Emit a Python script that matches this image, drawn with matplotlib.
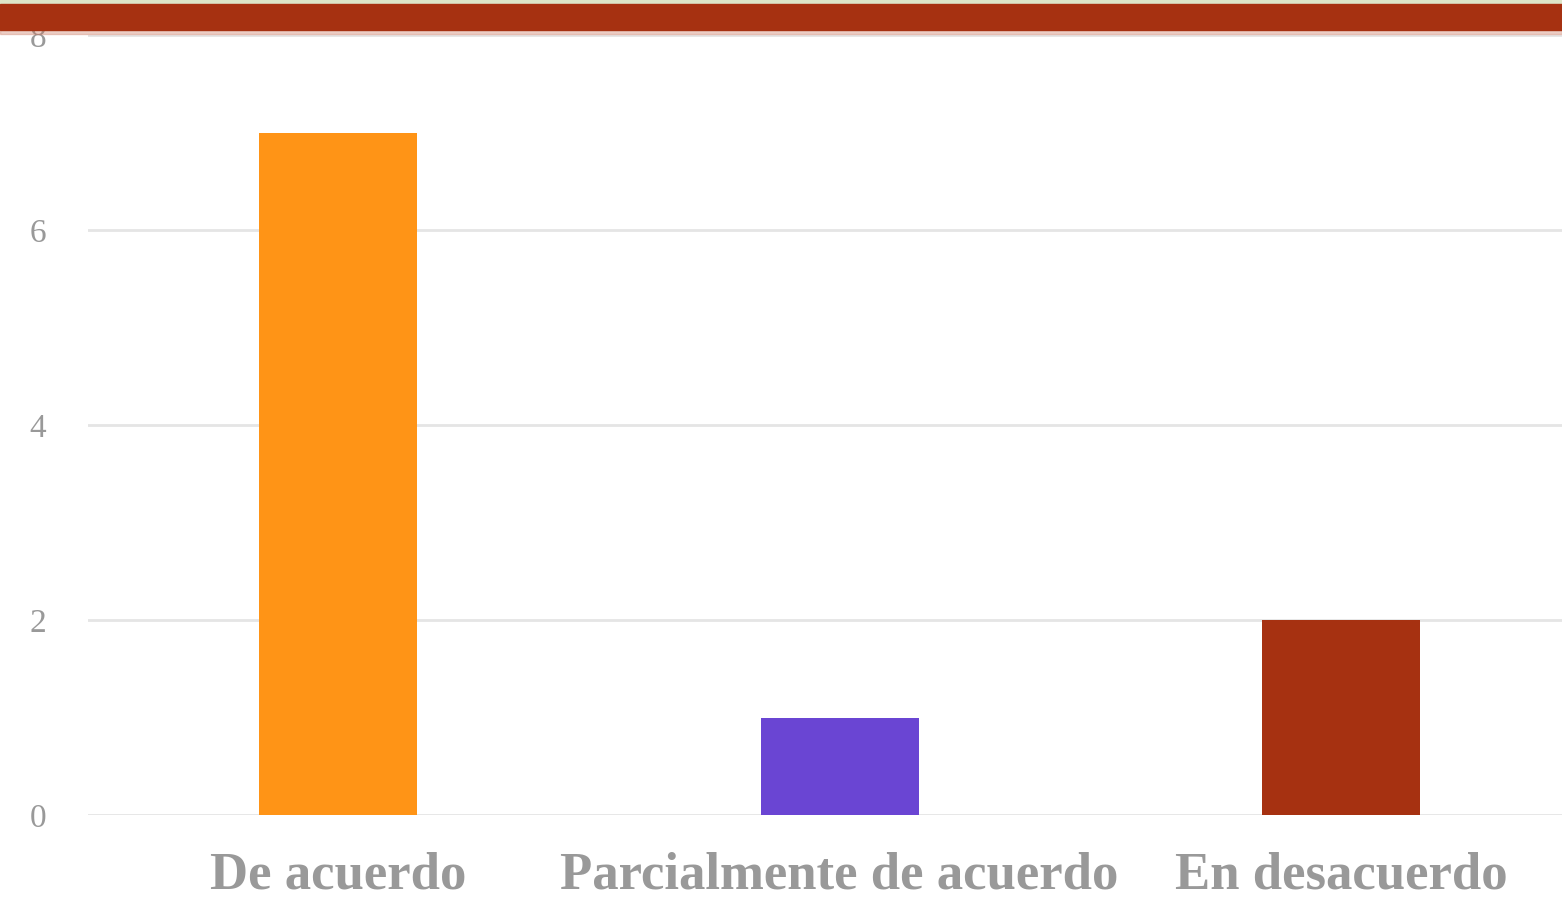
import matplotlib
matplotlib.use('Agg')
import matplotlib.pyplot as plt
from matplotlib.patches import Rectangle

categories = ['De acuerdo', 'Parcialmente de acuerdo', 'En desacuerdo']
counts = [7, 1, 2]
bar_colors = ['#FF9416', '#6A45D3', '#A63111']
y_ticks = [0, 2, 4, 6, 8]

GRAY = '#999999'


def main():
    fig = plt.figure(figsize=(15.62, 9.01), dpi=100)
    ax = fig.add_axes([88 / 1562, 1 - 815 / 901, 1 - 88 / 1562, (815 - 35) / 901])

    #  ---------------- BARS ----------------  #
    ax.bar(range(len(categories)), counts, width=0.315, color=bar_colors, zorder=3)

    ax.set_ylim(0, 8)
    ax.set_xlim(-0.4985, 2.44)
    ax.set_yticks(y_ticks)
    ax.set_xticks(range(len(categories)))
    ax.set_xticklabels(categories, fontsize=38, fontweight='bold',
                       color=GRAY, family='Liberation Serif')
    ax.set_yticklabels([str(t) for t in y_ticks], fontsize=24,
                       color=GRAY, family='Liberation Serif')
    ax.tick_params(axis='x', length=0, pad=26)
    ax.tick_params(axis='y', length=0, pad=30)
    ax.grid(axis='y', color='#E5E5E5', linewidth=2, zorder=0)
    for s in ax.spines.values():
        s.set_visible(False)

    #  ------------- TOP BAND -------------  #
    # pale strip and brushy red band across the top
    fig.patches.append(Rectangle((0, 1 - 6 / 901), 1, 6 / 901, transform=fig.transFigure,
                                 color='#DDE5C8', zorder=10))
    fig.patches.append(Rectangle((0, 1 - 34 / 901), 1, 6 / 901, transform=fig.transFigure,
                                 color='#C9755E', alpha=0.35, zorder=10))
    fig.patches.append(Rectangle((0, 1 - 30 / 901), 1, 26 / 901, transform=fig.transFigure,
                                 color='#A63111', zorder=11))

    fig.savefig('out.png', dpi=100)


if __name__ == '__main__':
    main()
